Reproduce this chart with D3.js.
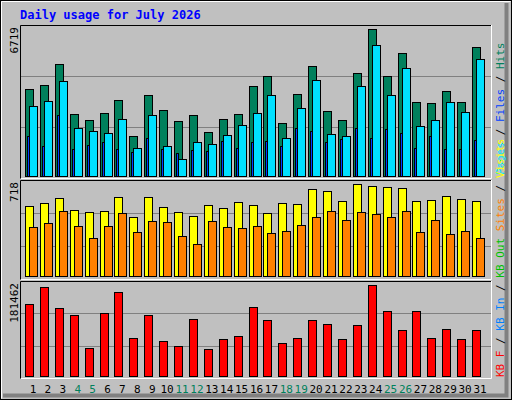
<!DOCTYPE html>
<html><head><meta charset="utf-8">
<script src="https://cdn.jsdelivr.net/npm/d3@7"></script>
<style>body{margin:0;background:#fff}svg{display:block}</style>
</head><body>
<script>
var days = d3.range(1, 32);
var weekends = [4, 5, 11, 12, 18, 19, 25, 26];
var hits = [3963,4159,5119,2834,2559,2879,3473,1828,3702,3016,2514,2788,2011,2605,2834,4113,4570,2422,3747,5027,2971,2559,4707,6719,4570,5621,3382,3336,3885,3382,5895];
var files = [3199,3428,4342,2194,2057,1965,2605,1280,2788,1371,777,1554,1462,1874,2331,2879,3702,1737,3108,4387,1919,1828,4113,5987,3702,4936,2285,2559,3382,2925,5347];
var pages = [1828,1371,2788,1234,1417,1554,1234,1097,1737,1234,1051,1188,1143,1600,1280,1554,1600,1371,2194,2057,1554,1691,2194,1737,2148,1965,1280,1828,1234,1234,1645];
var visits = [544,567,606,512,497,505,614,458,614,536,497,466,551,528,575,551,489,567,559,676,661,583,718,700,692,684,583,590,622,598,583];
var sites = [380,411,505,388,294,388,489,341,427,419,310,247,427,380,372,388,333,349,395,458,505,434,497,481,458,505,341,434,325,349,294];
var kbytes = [143900,177500,136000,122100,56800,126100,167600,76600,122100,70700,60800,114200,54800,74600,80500,137900,112200,66700,76600,112200,104300,74600,102300,181462,130000,92400,130000,76600,94400,74600,92400];
var maxLabels = ["6719", "718", "181462"];

var W = 512, H = 400, MONO = "'DejaVu Sans Mono', monospace";
var svg = d3.select("body").append("svg").attr("width", W).attr("height", H);

// frame
svg.append("rect").attr("width", W).attr("height", H).attr("fill", "#c0c0c0");
svg.append("path").attr("d", "M1.5,398.5V1.5H510.5").attr("stroke", "#fff").attr("fill", "none");
svg.append("path").attr("d", "M3,395.5H506.5V3").attr("stroke", "#808080").attr("stroke-width", 4).attr("fill", "none");
svg.append("rect").attr("x", 0.5).attr("y", 0.5).attr("width", W - 1).attr("height", H - 1)
	.attr("fill", "none").attr("stroke", "#000");

svg.append("text").attr("x", 20).attr("y", 19).attr("font-family", MONO).attr("font-weight", "bold")
	.attr("font-size", 12).attr("fill", "#0000ff").text("Daily usage for July 2026");

var x = d3.scaleLinear().domain([1, 31]).range([33, 480]);

function panel(top, bottom, base, maxVal, label) {
	svg.append("path").attr("d", "M20.5," + bottom + ".5V" + top + ".5H491.5")
		.attr("stroke", "#000").attr("fill", "none");
	svg.append("path").attr("d", "M21," + (bottom + 0.5) + "H491.5V" + top)
		.attr("stroke", "#fff").attr("fill", "none");
	var h = bottom - top;
	[1, 2].forEach(function(i) {
		var gy = Math.round(top + h * i / 3) + 0.5;
		svg.append("line").attr("x1", 21).attr("x2", 491).attr("y1", gy).attr("y2", gy)
			.attr("stroke", "#808080");
	});
	svg.append("text").attr("transform", "translate(18," + (top + 2) + ") rotate(-90)")
		.attr("text-anchor", "end").attr("font-family", MONO).attr("font-size", 11).text(label);
	return d3.scaleLinear().domain([0, maxVal]).range([base, top + 4]);
}

function bars(vals, scale, base, dx, w, color) {
	svg.append("g").selectAll("rect").data(vals).enter().append("rect")
		.attr("x", function(d, i) { return Math.round(x(i + 1)) + dx + 0.5; })
		.attr("y", function(d) { return Math.round(scale(d)) + 0.5; })
		.attr("width", w)
		.attr("height", function(d) { return base - Math.round(scale(d)); })
		.attr("fill", color).attr("stroke", "#000");
}

var yTop = panel(25, 178, 176, d3.max(hits), maxLabels[0]);
bars(hits, yTop, 176, -8, 8, "#00805c");
bars(files, yTop, 176, -4, 8, "#00e0ff");
bars(pages, yTop, 176, -6, 2, "#0040ff");

var yMid = panel(180, 279, 276, d3.max(visits), maxLabels[1]);
bars(visits, yMid, 276, -8, 8, "#ffff00");
bars(sites, yMid, 276, -4, 8, "#ff8000");

var yBot = panel(281, 378, 376, d3.max(kbytes), maxLabels[2]);
bars(kbytes, yBot, 376, -8, 8, "#ff0000");

svg.append("g").selectAll("text").data(days).enter().append("text")
	.attr("x", function(d) { return x(d); }).attr("y", 393)
	.attr("text-anchor", "middle").attr("font-family", MONO).attr("font-size", 11)
	.attr("fill", function(d) { return weekends.indexOf(d) >= 0 ? "#00805c" : "#000"; })
	.text(function(d) { return d; });

// rotated legends on the right
function legend(y0, parts) {
	var t = svg.append("text").attr("transform", "translate(504," + y0 + ") rotate(-90)")
		.attr("font-family", MONO).attr("font-size", 11);
	parts.forEach(function(p) { t.append("tspan").attr("fill", p[1]).text(p[0]); });
}
legend(175, [["Pages", "#00e0ff"], [" / ", "#000"], ["Files", "#0040ff"], [" / ", "#000"], ["Hits", "#00805c"]]);
legend(377, [["KB F", "#ff0000"], [" / ", "#000"], ["KB In", "#0080ff"], [" / ", "#000"], ["KB Out", "#00c000"],
	["  ", "#000"], ["Sites", "#ff8000"], [" / ", "#000"], ["Visits", "#ffff00"]]);
</script>
</body></html>
